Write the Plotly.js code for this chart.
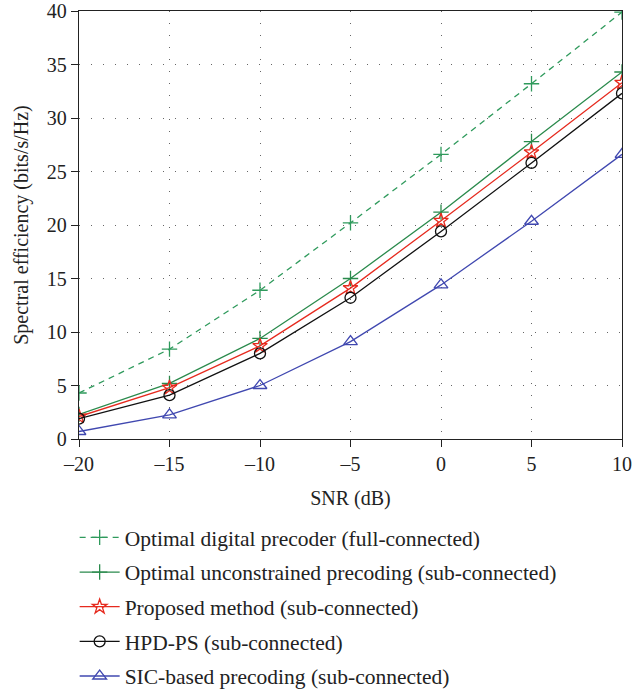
<!DOCTYPE html>
<html><head><meta charset="utf-8">
<script src="https://cdn.plot.ly/plotly-3.0.1.min.js"></script>
<style>html,body{margin:0;padding:0;background:#fff;}#c{width:633px;height:692px;}</style>
</head><body><div id="c"></div>
<script>
const snr = [-20, -15, -10, -5, 0, 5, 10];
const optDigital = [4.3, 8.4, 13.9, 20.2, 26.6, 33.2, 39.9];
const optUncon = [2.3, 5.2, 9.4, 15.0, 21.2, 27.8, 34.3];
const proposed = [2.1, 4.8, 8.7, 14.1, 20.4, 26.8, 33.3];
const hpdps = [1.9, 4.1, 8.0, 13.2, 19.4, 25.8, 32.3];
const sic = [0.7, 2.25, 5.0, 9.1, 14.4, 20.35, 26.6];
const names = [
  "Optimal digital precoder (full-connected)",
  "Optimal unconstrained precoding (sub-connected)",
  "Proposed method (sub-connected)",
  "HPD-PS (sub-connected)",
  "SIC-based precoding (sub-connected)"
];
const xTicks = [-20, -15, -10, -5, 0, 5, 10];
const xTickText = ["\u201320", "\u201315", "\u201310", "\u20135", "0", "5", "10"];
const yTicks = [0, 5, 10, 15, 20, 25, 30, 35, 40];

const green1 = "#2f9a5c", green2 = "#2a8a4c", red = "#e62a1e", blue = "#4048b0";
const traces = [
  {x: snr, y: optDigital, name: names[0], line: {color: green1, width: 1.3, dash: "6px,5px"},
   marker: {symbol: "cross-thin", size: 11, line: {color: green1, width: 1.3}}},
  {x: snr, y: optUncon, name: names[1], line: {color: green2, width: 1.3},
   marker: {symbol: "cross-thin", size: 11, line: {color: green2, width: 1.3}}},
  {x: snr, y: proposed, name: names[2], line: {color: red, width: 1.3},
   marker: {symbol: "star-open", size: 11, color: red, line: {color: red, width: 1.3}}},
  {x: snr, y: hpdps, name: names[3], line: {color: "#111", width: 1.3},
   marker: {symbol: "circle-open", size: 11, color: "#111", line: {color: "#111", width: 1.3}}},
  {x: snr, y: sic, name: names[4], line: {color: blue, width: 1.3},
   marker: {symbol: "triangle-up-open", size: 12, color: blue, line: {color: blue, width: 1.3}}}
].map((t, i) => Object.assign({type: "scatter", mode: "lines+markers", legendgroup: "g" + i}, t));

const font = {family: "Liberation Serif, Times New Roman, serif", size: 20, color: "#222"};
const layout = {
  width: 633, height: 692,
  margin: {l: 79, r: 11, t: 11, b: 253},
  paper_bgcolor: "#fff", plot_bgcolor: "#fff",
  font: font,
  showlegend: true,
  legend: {x: -0.008, xanchor: "left", xref: "paper", y: 0.253, yref: "container", yanchor: "top",
           orientation: "v",
           font: {family: font.family, size: 21.5, color: "#222"}, tracegroupgap: 3.7,
           itemwidth: 40, bgcolor: "rgba(0,0,0,0)"},
  xaxis: {range: [-20, 10], tickvals: xTicks, ticktext: xTickText,
          showline: true, linecolor: "#222", linewidth: 1.3, mirror: true,
          ticks: "outside", ticklen: 7, tickcolor: "#222",
          showgrid: true, gridcolor: "#666", griddash: "1px,11px", gridwidth: 1,
          zeroline: false, title: {text: "SNR (dB)", font: font, standoff: 16},
          tickfont: font},
  yaxis: {range: [0, 40], tickvals: yTicks,
          showline: true, linecolor: "#222", linewidth: 1.3, mirror: true,
          ticks: "outside", ticklen: 7, tickcolor: "#222",
          showgrid: true, gridcolor: "#666", griddash: "1px,11px", gridwidth: 1,
          zeroline: false, title: {text: "Spectral efficiency (bits/s/Hz)", font: font, standoff: 12},
          tickfont: font}
};
Plotly.newPlot("c", traces, layout, {displayModeBar: false, staticPlot: true});
</script></body></html>
